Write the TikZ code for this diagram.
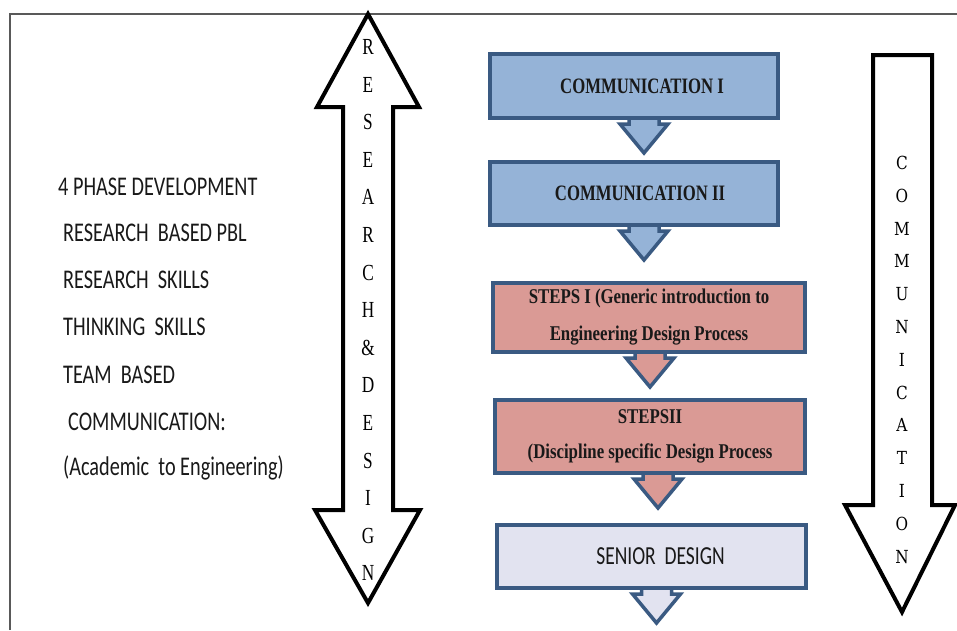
\documentclass[tikz,border=0pt]{standalone}
\usepackage{fontspec}
\usepackage{xcolor}
\usepackage{tikz}
\usetikzlibrary{arrows.meta,positioning,calc,backgrounds}

\newfontfamily\sidefont[FakeStretch=0.75]{Carlito}
\newfontfamily\boxfont[FakeStretch=0.76]{Liberation Serif}
\newfontfamily\stepfont[FakeStretch=0.8]{Liberation Serif}
\newfontfamily\lettfont[FakeStretch=0.75]{Liberation Serif}
\newfontfamily\slabfont[FakeStretch=0.85]{DejaVu Serif}

\definecolor{boxblue}{HTML}{95B3D7}
\definecolor{edgeblue}{HTML}{3A5A82}
\definecolor{boxpink}{HTML}{DA9A95}
\definecolor{boxlav}{HTML}{E2E3F0}

% small block arrow hanging under a box: box, x offset, fill
\newcommand{\flowarrow}[3]{%
  \filldraw[smallarr, fill=#3] ($(#1.south)+(#2-15,-6)$) -- ++(0,10) -- ++(-9,0)
    -- ($(#1.south)+(#2,33)$) -- ($(#1.south)+(#2+24,4)$) -- ++(-9,0) -- ++(0,-10);}

\begin{document}
\begin{tikzpicture}[x=1pt, y=-1pt,
  box/.style={rectangle, draw=edgeblue, line width=4pt, inner sep=0pt, align=center, text=black!90},
  sidetext/.style={anchor=west, inner sep=0pt, font=\sidefont\fontsize{27}{27}\selectfont, text=black!90},
  rdletter/.style={inner sep=0pt, font=\lettfont\fontsize{23}{23}\selectfont},
  comletter/.style={inner sep=0pt, font=\slabfont\fontsize{18}{18}\selectfont},
  bigarr/.style={draw=black, line width=4pt, fill=white, line join=miter},
  smallarr/.style={draw=edgeblue, line width=3.5pt, line join=miter},
  frame/.style={draw=black!65, line width=2pt}
]
  \useasboundingbox (0,0) rectangle (957,630);
  \draw[frame] (10,630) -- (10,14) -- (957,14);

  % left text
  \node[sidetext] (phase) at (58,187) {4 PHASE DEVELOPMENT};
  \node[sidetext] (pbl) at (63,233) {RESEARCH\ \ BASED PBL};
  \node[sidetext] (rskill) at (63,280) {RESEARCH\ \ SKILLS};
  \node[sidetext] (tskill) at (63,327) {THINKING\ \ SKILLS};
  \node[sidetext] (team) at (63,375) {TEAM\ \ BASED};
  \node[sidetext] (comm) at (68,422) {COMMUNICATION:};
  \node[sidetext] (acad) at (63,468) {(Academic\ \ to Engineering)};

  % research & design double arrow
  \draw[bigarr] (368,14) -- (419,107) -- (393,107) -- (393,510) -- (420,510) -- (368,603)
    -- (315,510) -- (343,510) -- (343,107) -- (317,107) -- cycle;
  \foreach \l [count=\i] in {R,E,S,E,A,R,C,H,\&,D,E,S,I,G,N}
    \node[rdletter] (rd\i) at (368,{47+37.6*(\i-1)}) {\l};

  % communication arrow
  \draw[bigarr] (873,55) -- (932,55) -- (932,505) -- (955,505) -- (902,612) -- (845,505)
    -- (873,505) -- cycle;
  \foreach \l [count=\i] in {C,O,M,M,U,N,I,C,A,T,I,O,N}
    \node[comletter] (cm\i) at (902,{163+32.8*(\i-1)}) {\l};

  % flow boxes
  \node[box, fill=boxblue, minimum width=288, minimum height=64,
    font=\boxfont\bfseries\fontsize{22}{24}\selectfont] (comm1) at (634,86)
    {\hspace*{16pt}COMMUNICATION I};
  \node[box, fill=boxblue, minimum width=288, minimum height=63,
    font=\boxfont\bfseries\fontsize{22}{24}\selectfont] (comm2) at (634,193.5)
    {\hspace*{12pt}COMMUNICATION II};
  \node[box, fill=boxpink, minimum width=312, minimum height=69,
    font=\stepfont\bfseries\fontsize{21}{37}\selectfont] (steps1) at (649,317.5)
    {STEPS I (Generic introduction to\\Engineering Design Process};
  \node[box, fill=boxpink, minimum width=310, minimum height=73,
    font=\stepfont\bfseries\fontsize{21}{35}\selectfont] (steps2) at (650,436.5)
    {STEPSII\\(Discipline specific Design Process};
  \node[box, fill=boxlav, minimum width=309, minimum height=63,
    font=\sidefont\fontsize{26}{26}\selectfont] (senior) at (651.5,556.5)
    {\hspace*{18pt}SENIOR\ \ DESIGN};

  \begin{scope}[on background layer]
    \flowarrow{comm1}{10}{boxblue}
    \flowarrow{comm2}{10}{boxblue}
    \flowarrow{steps1}{1}{boxpink}
    \flowarrow{steps2}{8}{boxpink}
    \flowarrow{senior}{5}{boxlav}
  \end{scope}
\end{tikzpicture}
\end{document}
